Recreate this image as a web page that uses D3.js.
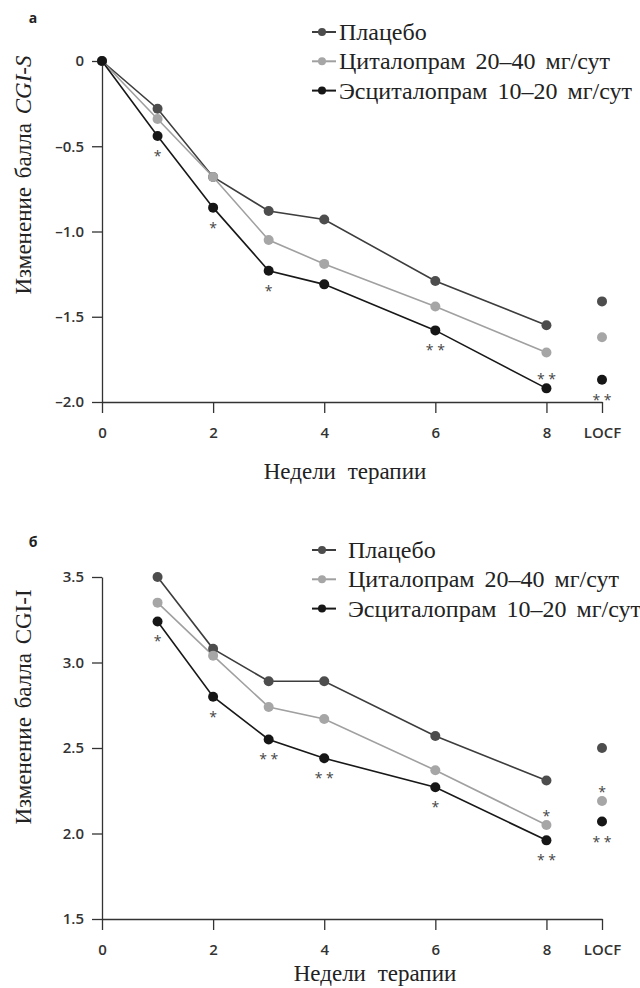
<!DOCTYPE html>
<html>
<head>
<meta charset="utf-8">
<script src="https://cdn.jsdelivr.net/npm/d3@7"></script>
<style>
  body { margin: 0; background: #fff; }
  svg { display: block; }
  .tick text { font-family: "Open Sans", sans-serif; font-size: 15px; font-weight: 600; fill: #333; }
  .domain, .tick line { stroke: #333; stroke-width: 1.3; }
</style>
</head>
<body>
<svg id="chart"></svg>
<script>
let W = 640;
let H = 988;

let svg = d3.select("#chart").attr("width", W).attr("height", H);

// shared
const seriesNames = ["Плацебо", "Циталопрам 20–40 мг/сут", "Эсциталопрам 10–20 мг/сут"];
const dotColors = ["#4d4d4d", "#a6a6a6", "#161616"];
const lineColors = ["#3d3d3d", "#a0a0a0", "#181818"];
const xTicks = [0, 2, 4, 6, 8, 9];
const xTickLabels = ["0", "2", "4", "6", "8", "LOCF"];
const locfWeek = 9;

// panel a: CGI-S
const weeksA = [0, 1, 2, 3, 4, 6, 8];
const placeboA = [0, -0.28, -0.68, -0.88, -0.93, -1.29, -1.55];
const citalopramA = [0, -0.34, -0.68, -1.05, -1.19, -1.44, -1.71];
const escitalopramA = [0, -0.44, -0.86, -1.23, -1.31, -1.58, -1.92];
const locfA = [-1.41, -1.62, -1.87];
const yTicksA = [0, -0.5, -1.0, -1.5, -2.0];
const yTickLabelsA = ["0", "–0.5", "–1.0", "–1.5", "–2.0"];
const starsA = [
    {series: 2, week: 1, mark: "*", side: "below"},
    {series: 2, week: 2, mark: "*", side: "below"},
    {series: 2, week: 3, mark: "*", side: "below"},
    {series: 2, week: 6, mark: "* *", side: "below"},
    {series: 2, week: 8, mark: "* *", side: "above"},
    {series: 2, week: 9, mark: "* *", side: "below"}
];

// panel b: CGI-I
const weeksB = [1, 2, 3, 4, 6, 8];
const placeboB = [3.50, 3.08, 2.89, 2.89, 2.57, 2.31];
const citalopramB = [3.35, 3.04, 2.74, 2.67, 2.37, 2.05];
const escitalopramB = [3.24, 2.80, 2.55, 2.44, 2.27, 1.96];
const locfB = [2.50, 2.19, 2.07];
const yTicksB = [1.5, 2.0, 2.5, 3.0, 3.5];
const yTickLabelsB = ["1.5", "2.0", "2.5", "3.0", "3.5"];
const starsB = [
    {series: 2, week: 1, mark: "*", side: "below"},
    {series: 2, week: 2, mark: "*", side: "below"},
    {series: 2, week: 3, mark: "* *", side: "below"},
    {series: 2, week: 4, mark: "* *", side: "below"},
    {series: 2, week: 6, mark: "*", side: "below"},
    {series: 2, week: 8, mark: "* *", side: "below"},
    {series: 1, week: 8, mark: "*", side: "above"},
    {series: 1, week: 9, mark: "*", side: "above"},
    {series: 2, week: 9, mark: "* *", side: "below"}
];

function drawPanel(p) {
    let g = svg.append("g");
    let x = d3.scaleLinear().domain([0, 9]).range([102, 602]);
    let y = d3.scaleLinear().domain(p.yDomain).range(p.yRange);
    let bottom = p.yRange[0];

    // axes
    g.append("g")
        .attr("transform", "translate(0," + bottom + ")")
        .call(d3.axisBottom(x).tickValues(xTicks).tickSize(11).tickSizeOuter(0).tickPadding(14)
            .tickFormat(function (d, i) { return xTickLabels[i]; }));

    g.append("g")
        .attr("transform", "translate(102,0)")
        .call(d3.axisLeft(y).tickValues(p.yTicks).tickSize(10).tickSizeOuter(0).tickPadding(8)
            .tickFormat(function (d, i) { return p.yTickLabels[i]; }));

    // lines
    let line = d3.line()
        .x(function (d) { return x(d[0]); })
        .y(function (d) { return y(d[1]); });

    p.series.forEach(function (vals, s) {
        let pts = p.weeks.map(function (w, i) { return [w, vals[i]]; });
        g.append("path")
            .datum(pts)
            .attr("d", line)
            .attr("fill", "none")
            .attr("stroke", lineColors[s])
            .attr("stroke-width", 1.6);
    });

    // dots, incl. LOCF
    p.series.forEach(function (vals, s) {
        let pts = p.weeks.map(function (w, i) { return [w, vals[i]]; });
        pts.push([locfWeek, p.locf[s]]);
        g.selectAll(null).data(pts).enter().append("circle")
            .attr("cx", function (d) { return x(d[0]); })
            .attr("cy", function (d) { return y(d[1]); })
            .attr("r", 5)
            .style("fill", dotColors[s]);
    });

    // significance marks
    g.selectAll(null).data(p.stars).enter().append("text")
        .attr("x", function (d) { return x(d.week); })
        .attr("y", function (d) {
            let v = d.week === locfWeek ? p.locf[d.series] : p.series[d.series][p.weeks.indexOf(d.week)];
            return y(v) + (d.side === "below" ? 25 : -4);
        })
        .attr("text-anchor", "middle")
        .style("font-family", "Open Sans, sans-serif")
        .style("font-size", "14px")
        .style("fill", "#444")
        .text(function (d) { return d.mark; });

    // panel letter
    g.append("text")
        .attr("x", 33).attr("y", p.letterY)
        .attr("text-anchor", "middle")
        .style("font-family", "Open Sans, sans-serif")
        .style("font-size", "14px")
        .style("font-weight", "700")
        .style("fill", "#222")
        .text(p.letter);

    // y title
    let yt = g.append("text")
        .attr("transform", "translate(31," + p.yTitleY + ") rotate(-90)")
        .attr("text-anchor", "middle")
        .style("font-family", "Liberation Serif, serif")
        .style("font-size", "23px")
        .style("word-spacing", "3px")
        .style("fill", "#222");
    yt.append("tspan").text("Изменение балла ");
    yt.append("tspan").style("font-style", p.yTitleItalic ? "italic" : "normal").text(p.yTitleCode);

    // x title
    g.append("text")
        .attr("x", p.xTitleX).attr("y", p.xTitleY)
        .attr("text-anchor", "middle")
        .style("font-family", "Liberation Serif, serif")
        .style("font-size", "23px")
        .style("word-spacing", "6px")
        .style("fill", "#222")
        .text("Недели терапии");

    // legend
    seriesNames.forEach(function (name, s) {
        let ly = p.legendY + s * 29.3;
        g.append("line")
            .attr("x1", 312).attr("x2", 336)
            .attr("y1", ly).attr("y2", ly)
            .attr("stroke", lineColors[s])
            .attr("stroke-width", 2);
        g.append("circle")
            .attr("cx", 322).attr("cy", ly).attr("r", 4)
            .style("fill", dotColors[s]);
        g.append("text")
            .attr("x", p.legendTextX).attr("y", ly + 8)
            .style("font-family", "Liberation Serif, serif")
            .style("font-size", "24px")
            .style("word-spacing", "4px")
            .style("fill", "#222")
            .text(name);
    });
}

drawPanel({
    yDomain: [-2, 0], yRange: [402, 61],
    yTicks: yTicksA, yTickLabels: yTickLabelsA,
    weeks: weeksA, series: [placeboA, citalopramA, escitalopramA], locf: locfA,
    stars: starsA,
    letter: "а", letterY: 23,
    yTitleY: 175, yTitleCode: "CGI-S", yTitleItalic: true,
    xTitleX: 345, xTitleY: 479,
    legendY: 32, legendTextX: 339
});

drawPanel({
    yDomain: [1.5, 3.5], yRange: [919, 577],
    yTicks: yTicksB, yTickLabels: yTickLabelsB,
    weeks: weeksB, series: [placeboB, citalopramB, escitalopramB], locf: locfB,
    stars: starsB,
    letter: "б", letterY: 547,
    yTitleY: 707, yTitleCode: "CGI-I", yTitleItalic: false,
    xTitleX: 375, xTitleY: 981,
    legendY: 550, legendTextX: 348
});
</script>
</body>
</html>
